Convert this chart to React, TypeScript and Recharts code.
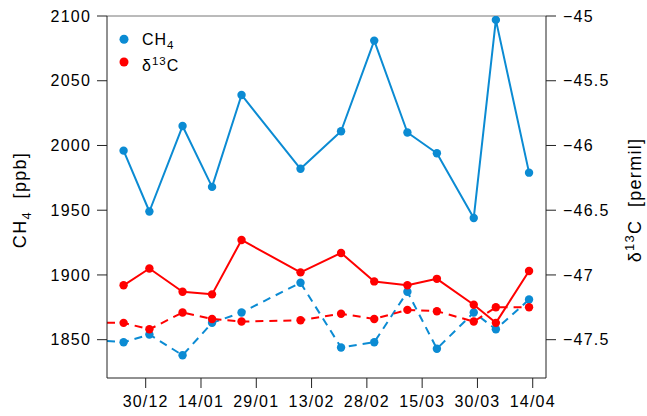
import { LineChart, Line, XAxis, YAxis, ReferenceLine, Legend, Label } from 'recharts';

const BLUE = '#0b8bd3';
const RED = '#ff0000';
const AXIS = '#222';
const FONT = '"Liberation Sans", Arial, Helvetica, sans-serif';

// sampling days, counted from 30/12
const sampleDays = [-6, 1, 10, 18, 26, 42, 53, 62, 71, 79, 89, 95, 104];
const ch4Main = [1996, 1949, 2015, 1968, 2039, 1982, 2011, 2081, 2010, 1994, 1944, 2097, 1979];
const d13cMain = [-47.08, -46.95, -47.13, -47.15, -46.73, -46.98, -46.83, -47.05, -47.08, -47.03, -47.23, -47.37, -46.97];
const ch4Bg = [1848, 1854, 1838, 1863, 1871, 1894, 1844, 1848, 1887, 1843, 1871, 1858, 1881];
const d13cBg = [-47.37, -47.42, -47.29, -47.34, -47.36, -47.35, -47.3, -47.34, -47.27, -47.28, -47.36, -47.25, -47.25];
// the background series runs in from the left edge
const bgLeadDay = -10.5;
const ch4BgLead = 1849;
const d13cBgLead = -47.37;

const xTickDays = [0, 15, 30, 45, 60, 75, 90, 105];
const xTickLabels = ['30/12', '14/01', '29/01', '13/02', '28/02', '15/03', '30/03', '14/04'];
const ch4Ticks = [1850, 1900, 1950, 2000, 2050, 2100];
const d13cTicks = [-47.5, -47, -46.5, -46, -45.5, -45];

const data = [
  { day: bgLeadDay, ch4Bg: ch4BgLead, d13cBg: d13cBgLead, lead: true },
  ...sampleDays.map((day, i) => ({
    day,
    ch4: ch4Main[i],
    d13c: d13cMain[i],
    ch4Bg: ch4Bg[i],
    d13cBg: d13cBg[i],
  })),
];

const tickStyle = { fill: '#000', fontSize: 16, fontFamily: FONT, letterSpacing: 1.2 };

const makeDot = (color: string) => (props: any) => {
  const { cx, cy, payload, index } = props;
  if (payload?.lead || cx == null || cy == null) return <g key={index} />;
  return <circle key={index} cx={cx} cy={cy} r={4.2} fill={color} stroke="none" />;
};

const LeftTitle = () => (
  <text x={26} y={200} transform="rotate(-90 26 200)" textAnchor="middle" fontFamily={FONT} fontSize={18} letterSpacing={1.3} fill="#000">
    CH<tspan fontSize={13} dy={5}>4</tspan>
    <tspan dy={-5}>{'\u00a0\u00a0[ppb]'}</tspan>
  </text>
);

const RightTitle = () => (
  <text x={641} y={200} transform="rotate(-90 641 200)" textAnchor="middle" fontFamily={FONT} fontSize={18} letterSpacing={1.3} fill="#000">
    δ<tspan fontSize={13} dy={-7}>13</tspan>
    <tspan dy={7}>{'C\u00a0\u00a0[permil]'}</tspan>
  </text>
);

const renderLegend = () => (
  <svg width={90} height={52} style={{ display: 'block' }}>
    <circle cx={8} cy={13.3} r={4.5} fill={BLUE} />
    <text x={26} y={18.8} fontFamily={FONT} fontSize={16} letterSpacing={1} fill="#000">
      CH<tspan fontSize={11.5} dy={4}>4</tspan>
    </text>
    <circle cx={8} cy={36} r={4.5} fill={RED} />
    <text x={26} y={44.5} fontFamily={FONT} fontSize={16} letterSpacing={1} fill="#000">
      δ<tspan fontSize={11.5} dy={-6}>13</tspan>
      <tspan dy={6}>C</tspan>
    </text>
  </svg>
);

export default function App() {
  return (
    <div style={{ position: 'absolute', left: 0, top: 0, width: 647, height: 416, background: '#fff' }}>
      <LineChart width={647} height={416} data={data} margin={{ top: 16, right: 0, bottom: 0, left: 0 }}>
        <XAxis
          dataKey="day"
          type="number"
          domain={[-10.5, 108.6]}
          ticks={xTickDays}
          interval={0}
          allowDataOverflow
          tickFormatter={(v: number) => xTickLabels[xTickDays.indexOf(v)]}
          height={38}
          tickSize={10}
          tickMargin={8}
          stroke={AXIS}
          tick={tickStyle}
        />
        <YAxis
          yAxisId="left"
          width={107}
          domain={[1820.4, 2100]}
          ticks={ch4Ticks}
          interval={0}
          allowDataOverflow
          tickSize={10}
          tickMargin={6}
          stroke={AXIS}
          tick={tickStyle}
        >
          <Label content={LeftTitle} />
        </YAxis>
        <YAxis
          yAxisId="right"
          orientation="right"
          width={101}
          domain={[-47.796, -45]}
          ticks={d13cTicks}
          interval={0}
          allowDataOverflow
          tickSize={10}
          tickMargin={7}
          stroke={AXIS}
          tick={tickStyle}
          tickFormatter={(v: number) => String(v).replace('-', '\u2212')}
        >
          <Label content={RightTitle} />
        </YAxis>
        <ReferenceLine yAxisId="left" y={2100} stroke="#777" strokeWidth={1} />
        <Legend
          layout="vertical"
          align="center"
          verticalAlign="middle"
          content={renderLegend}
          wrapperStyle={{ top: 26, left: 116, width: 90, height: 52 }}
        />
        <Line yAxisId="left" dataKey="ch4" stroke={BLUE} strokeWidth={2} strokeLinejoin="round" dot={makeDot(BLUE)} activeDot={false} isAnimationActive={false} />
        <Line yAxisId="left" dataKey="ch4Bg" stroke={BLUE} strokeWidth={2} strokeDasharray="8 6" dot={makeDot(BLUE)} activeDot={false} isAnimationActive={false} />
        <Line yAxisId="right" dataKey="d13c" stroke={RED} strokeWidth={2} strokeLinejoin="round" dot={makeDot(RED)} activeDot={false} isAnimationActive={false} />
        <Line yAxisId="right" dataKey="d13cBg" stroke={RED} strokeWidth={2} strokeDasharray="8 6" dot={makeDot(RED)} activeDot={false} isAnimationActive={false} />
      </LineChart>
    </div>
  );
}
